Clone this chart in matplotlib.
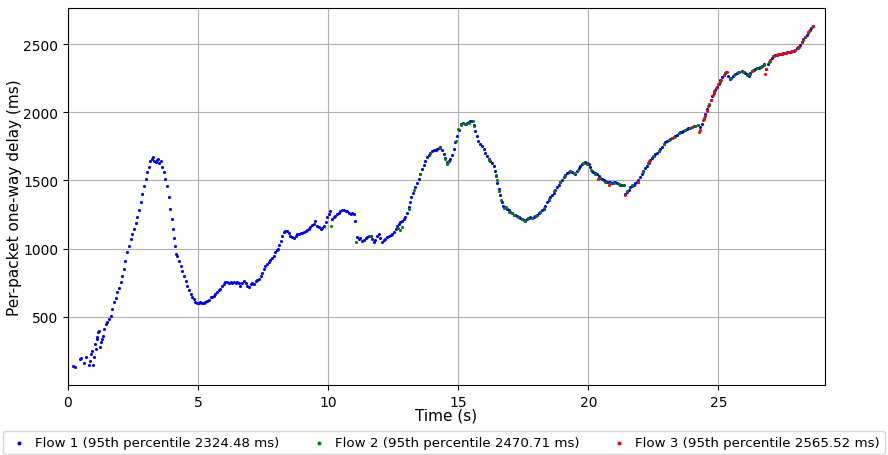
import matplotlib
matplotlib.use('Agg')
import matplotlib.pyplot as plt

# flow 1 (blue), time in s and one-way delay in ms
flow1_t = [0.20, 0.27, 0.45, 0.51, 0.61, 0.68, 0.80, 0.84, 0.88, 0.91, 0.96, 0.99, 1.03, 1.06, 1.10,
           1.13, 1.17, 1.19, 1.23, 1.25, 1.29, 1.33, 1.38, 1.45, 1.51, 1.57, 1.64, 1.70, 1.77, 1.83,
           1.89, 1.96, 2.02, 2.08, 2.15, 2.21, 2.28, 2.34, 2.41, 2.47, 2.53, 2.60, 2.66, 2.72, 2.79,
           2.85, 2.92, 2.98, 3.05, 3.11, 3.17, 3.22, 3.28, 3.32, 3.37, 3.41, 3.45, 3.50, 3.56, 3.62,
           3.68, 3.74, 3.81, 3.87, 3.94, 4.00, 4.05, 4.09, 4.13, 4.17, 4.20, 4.27, 4.33, 4.39, 4.45,
           4.52, 4.58, 4.64, 4.71, 4.77, 4.84, 4.90, 4.97, 5.03, 5.09, 5.15, 5.22, 5.28, 5.35, 5.41,
           5.48, 5.54, 5.61, 5.67, 5.73, 5.80, 5.86, 5.92, 5.98, 6.05, 6.11, 6.18, 6.25, 6.32, 6.38,
           6.44, 6.50, 6.57, 6.63, 6.70, 6.76, 6.83, 6.89, 6.95, 7.02, 7.08, 7.14, 7.21, 7.27, 7.33,
           7.40, 7.46, 7.53, 7.59, 7.65, 7.72, 7.78, 7.85, 7.91, 7.97, 8.04, 8.07, 8.12, 8.17, 8.23,
           8.30, 8.36, 8.43, 8.49, 8.55, 8.62, 8.68, 8.75, 8.81, 8.88, 8.94, 9.00, 9.06, 9.13, 9.19,
           9.26, 9.32, 9.38, 9.45, 9.51, 9.58, 9.64, 9.71, 9.77, 9.84, 9.90, 9.96, 10.03, 10.09,
           10.15, 10.22, 10.28, 10.34, 10.41, 10.47, 10.54, 10.60, 10.67, 10.73, 10.80, 10.86, 10.93,
           10.99, 11.05, 11.11, 11.18, 11.24, 11.31, 11.37, 11.44, 11.50, 11.57, 11.63, 11.69, 11.75,
           11.82, 11.88, 11.94, 12.01, 12.07, 12.14, 12.20, 12.27, 12.33, 12.40, 12.46, 12.53, 12.59,
           12.65, 12.72, 12.78, 12.85, 12.91, 12.97, 13.04, 13.10, 13.15, 13.19, 13.27, 13.35, 13.41,
           13.48, 13.54, 13.61, 13.67, 13.74, 13.80, 13.87, 13.93, 14.00, 14.06, 14.13, 14.19, 14.25,
           14.29, 14.36, 14.44, 14.50, 14.57, 14.63, 14.70, 14.76, 14.82, 14.89, 14.96, 15.03, 15.11,
           15.18, 15.26, 15.34, 15.40, 15.47, 15.53, 15.60, 15.66, 15.72, 15.78, 15.85, 15.91, 15.98,
           16.04, 16.10, 16.17, 16.23, 16.30, 16.36, 16.42, 16.47, 16.51, 16.55, 16.61, 16.68, 16.74,
           16.81, 16.87, 16.94, 17.00, 17.07, 17.13, 17.20, 17.26, 17.33, 17.39, 17.45, 17.52, 17.58,
           17.64, 17.71, 17.77, 17.84, 17.90, 17.97, 18.03, 18.09, 18.16, 18.22, 18.28, 18.35, 18.41,
           18.48, 18.54, 18.61, 18.67, 18.74, 18.80, 18.86, 18.93, 18.99, 19.05, 19.12, 19.18, 19.25,
           19.31, 19.37, 19.44, 19.50, 19.56, 19.63, 19.69, 19.76, 19.82, 19.89, 19.95, 20.01, 20.08,
           20.14, 20.20, 20.27, 20.33, 20.40, 20.46, 20.53, 20.59, 20.65, 20.72, 20.78, 20.85, 20.91,
           20.97, 21.04, 21.10, 21.17, 21.23, 21.30, 21.36, 21.42, 21.48, 21.55, 21.61, 21.68, 21.74,
           21.81, 21.87, 21.93, 22.00, 22.06, 22.12, 22.19, 22.25, 22.32, 22.38, 22.45, 22.51, 22.58,
           22.64, 22.70, 22.77, 22.83, 22.90, 22.96, 23.02, 23.09, 23.15, 23.22, 23.28, 23.34, 23.41,
           23.47, 23.53, 23.60, 23.66, 23.73, 23.79, 23.85, 23.92, 23.98, 24.05, 24.11, 24.20, 24.30,
           24.36, 24.43, 24.50, 24.58, 24.64, 24.70, 24.75, 24.82, 24.88, 24.94, 25.01, 25.07, 25.14,
           25.20, 25.26, 25.31, 25.37, 25.43, 25.50, 25.57, 25.65, 25.72, 25.80, 25.90, 25.97, 26.03,
           26.10, 26.16, 26.23, 26.29, 26.36, 26.42, 26.49, 26.55, 26.61, 26.68, 26.76, 26.85, 26.92,
           26.99, 27.05, 27.12, 27.18, 27.25, 27.31, 27.37, 27.44, 27.50, 27.57, 27.63, 27.70, 27.76,
           27.83, 27.89, 27.95, 28.02, 28.08, 28.14, 28.20, 28.27, 28.33, 28.40, 28.46, 28.52, 28.58,
           28.63]
flow1_d = [141, 135, 190, 195, 158, 202, 150, 178, 230, 251, 146, 202, 300, 263, 350,
           337, 390, 398, 280, 312, 340, 361, 410, 447, 459, 483, 508, 557, 606, 640,
           679, 715, 752, 800, 850, 910, 972, 1020, 1070, 1105, 1143, 1185, 1229, 1285, 1339,
           1400, 1461, 1510, 1559, 1600, 1644, 1660, 1669, 1640, 1632, 1650, 1657, 1630, 1644, 1600,
           1559, 1510, 1461, 1380, 1290, 1215, 1143, 1080, 1021, 960, 948, 910, 874, 838, 801,
           765, 728, 695, 667, 645, 630, 612, 603, 601, 606, 600, 605, 612, 618, 625,
           642, 648, 654, 670, 685, 695, 703, 725, 740, 752, 756, 750, 752, 748, 755,
           750, 752, 745, 728, 750, 764, 745, 728, 716, 740, 745, 740, 764, 770, 777,
           801, 825, 850, 875, 890, 899, 915, 935, 948, 975, 990, 997, 1030, 1058, 1090,
           1119, 1130, 1131, 1115, 1094, 1085, 1075, 1095, 1107, 1105, 1112, 1118, 1119, 1130, 1135,
           1143, 1158, 1170, 1180, 1200, 1168, 1160, 1143, 1155, 1168, 1195, 1229, 1255, 1278,
           1217, 1230, 1242, 1253, 1265, 1278, 1283, 1286, 1275, 1278, 1265, 1253, 1262,
           1253, 1204, 1083, 1070, 1075, 1058, 1065, 1078, 1083, 1090, 1094, 1070, 1046,
           1060, 1090, 1107, 1080, 1050, 1060, 1070, 1083, 1090, 1100, 1107, 1125, 1143,
           1165, 1180, 1192, 1205, 1215, 1229, 1260, 1302, 1340, 1376, 1410, 1449, 1480,
           1510, 1545, 1583, 1615, 1645, 1669, 1690, 1705, 1718, 1725, 1722, 1730, 1738,
           1742, 1720, 1693, 1665, 1632, 1640, 1657, 1690, 1730, 1780, 1828, 1870, 1913,
           1920, 1915, 1921, 1930, 1935, 1938, 1910, 1864, 1825, 1791, 1770, 1750, 1730,
           1705, 1680, 1657, 1640, 1625, 1608, 1570, 1534, 1480, 1437, 1390, 1339, 1315,
           1302, 1290, 1280, 1266, 1258, 1250, 1245, 1241, 1232, 1225, 1218, 1210, 1204,
           1215, 1222, 1229, 1225, 1230, 1240, 1246, 1260, 1270, 1280, 1290, 1315, 1340,
           1360, 1376, 1395, 1410, 1430, 1449, 1470, 1490, 1505, 1522, 1540, 1555, 1565,
           1571, 1560, 1555, 1547, 1570, 1590, 1608, 1620, 1628, 1632, 1625, 1620, 1600,
           1571, 1560, 1552, 1547, 1535, 1520, 1510, 1500, 1495, 1490, 1486, 1488, 1482,
           1486, 1486, 1478, 1475, 1470, 1468, 1466, 1400, 1415, 1430, 1449, 1462, 1470,
           1478, 1486, 1505, 1528, 1547, 1570, 1590, 1608, 1630, 1650, 1665, 1681, 1695,
           1705, 1718, 1730, 1745, 1765, 1780, 1791, 1800, 1805, 1810, 1816, 1825, 1835,
           1845, 1852, 1858, 1865, 1870, 1877, 1882, 1888, 1892, 1897, 1900, 1906, 1890,
           1915, 1950, 1985, 2023, 2055, 2090, 2121, 2145, 2165, 2183, 2210, 2235, 2256,
           2275, 2290, 2293, 2265, 2243, 2255, 2268, 2280, 2290, 2298, 2304, 2295, 2285,
           2278, 2268, 2285, 2300, 2310, 2317, 2322, 2328, 2329, 2340, 2353, 2320, 2355,
           2378, 2398, 2415, 2418, 2422, 2425, 2427, 2430, 2434, 2436, 2439, 2442, 2445,
           2448, 2451, 2460, 2468, 2476, 2495, 2515, 2537, 2553, 2570, 2586, 2602, 2620,
           2634]

# flow 2 (green)
flow2_t = [10.10, 11.09, 11.60, 12.70, 12.78, 12.85, 13.10, 13.30, 13.55, 13.90, 14.30, 14.50,
           14.57, 14.62, 14.90, 15.00, 15.10, 15.20, 15.30, 15.40, 15.55, 15.62, 16.20, 16.45,
           16.50, 16.58, 16.65, 16.75, 16.85, 16.95, 17.05, 17.15, 17.30, 17.45, 17.55, 17.70,
           17.85, 18.00, 18.15, 18.30, 18.50, 18.70, 18.90, 19.10, 19.30, 19.45, 19.60, 19.80,
           19.95, 20.10, 20.25, 20.45, 20.65, 20.85, 21.00, 21.20, 21.35, 21.50, 21.70, 21.90,
           22.10, 22.30, 22.50, 22.70, 22.90, 23.10, 23.30, 23.50, 23.70, 23.90, 24.10, 24.22,
           24.45, 24.65, 24.85, 25.05, 25.25, 25.45, 25.60, 25.75, 25.95, 26.10, 26.20, 26.35,
           26.50, 26.65, 26.75, 26.95, 27.15, 27.35, 27.60, 27.85, 28.05, 28.25, 28.45, 28.60]
flow2_d = [1168, 1050, 1090, 1150, 1140, 1160, 1290, 1430, 1550, 1700, 1740, 1660,
           1620, 1632, 1790, 1880, 1910, 1925, 1915, 1925, 1935, 1900, 1650, 1540,
           1500, 1420, 1360, 1300, 1305, 1270, 1262, 1250, 1235, 1220, 1205, 1222,
           1228, 1240, 1268, 1295, 1365, 1425, 1490, 1535, 1568, 1552, 1580, 1625,
           1622, 1580, 1548, 1518, 1492, 1485, 1484, 1472, 1465, 1420, 1465, 1490,
           1560, 1625, 1678, 1715, 1765, 1800, 1818, 1848, 1868, 1885, 1898, 1905,
           1960, 2060, 2155, 2225, 2285, 2248, 2275, 2292, 2298, 2275, 2280, 2308,
           2322, 2335, 2350, 2370, 2416, 2426, 2438, 2450, 2472, 2532, 2585, 2628]

# flow 3 (red)
flow3_t = [20.38, 20.80, 21.42, 21.90, 22.35, 23.20, 24.00, 24.26, 24.30, 24.40, 24.48, 24.55,
           24.62, 24.70, 24.78, 24.85, 24.92, 25.00, 25.10, 25.20, 25.32, 26.30, 26.80, 26.85,
           27.00, 27.10, 27.25, 27.35, 27.45, 27.55, 27.62, 27.70, 27.78, 27.85, 27.95, 28.10,
           28.20, 28.35, 28.50, 28.62]
flow3_d = [1510, 1466, 1390, 1490, 1640, 1810, 1895, 1852, 1870, 1940, 1975, 2010,
           2045, 2090, 2125, 2150, 2175, 2205, 2240, 2270, 2295, 2305, 2280, 2320,
           2385, 2410, 2420, 2425, 2430, 2435, 2437, 2440, 2444, 2448, 2458, 2480,
           2515, 2555, 2595, 2630]

labels = ['Flow 1 (95th percentile 2324.48 ms)',
          'Flow 2 (95th percentile 2470.71 ms)',
          'Flow 3 (95th percentile 2565.52 ms)']

fig = plt.figure(figsize=(8.88, 4.56), dpi=100)
ax = fig.add_axes([68 / 888, 1 - 386 / 456, 757 / 888, 377 / 456])

ax.scatter(flow1_t, flow1_d, s=5, c='b', marker='o', linewidths=0, label=labels[0])
ax.scatter(flow2_t, flow2_d, s=5, c='g', marker='o', linewidths=0, label=labels[1])
ax.scatter(flow3_t, flow3_d, s=5, c='r', marker='o', linewidths=0, label=labels[2])

ax.set_xlim(0, 29.1)
ax.set_ylim(0, 2765)
ax.set_xticks([0, 5, 10, 15, 20, 25])
ax.set_yticks([500, 1000, 1500, 2000, 2500])
ax.grid(True)
ax.set_axisbelow(True)
ax.set_xlabel('Time (s)', fontsize=11, labelpad=-1)
ax.set_ylabel('Per-packet one-way delay (ms)', fontsize=11, labelpad=1)

ax.legend(loc='upper center', bbox_to_anchor=(0.5, 1 - 425 / 456),
          bbox_transform=fig.transFigure, ncol=3, fontsize=9.6,
          markerscale=1.3, scatterpoints=1, handlelength=1.6,
          handletextpad=0.4, columnspacing=2.15)

fig.savefig('out.png', dpi=100)
